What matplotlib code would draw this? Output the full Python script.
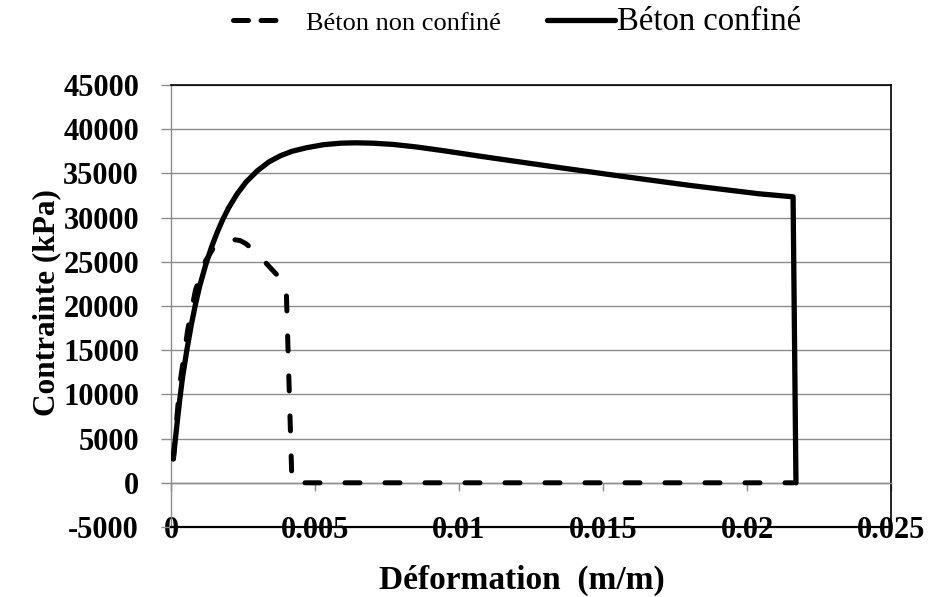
import matplotlib
matplotlib.use("Agg")
import matplotlib.pyplot as plt
from matplotlib.lines import Line2D
import numpy as np

plt.rcParams['font.family'] = ['Liberation Serif', 'DejaVu Serif']
plt.rcParams['axes.unicode_minus'] = False

# stress-strain curves (strain in m/m, stress in kPa)
unconf_strain = [0.00008, 0.0003, 0.00058, 0.00085, 0.0012, 0.0015, 0.0018, 0.002,
                 0.0022, 0.0024, 0.0026, 0.0028, 0.003, 0.0032, 0.0034, 0.0036,
                 0.0038, 0.0040, 0.0042, 0.0216]
unconf_stress = [2700, 11000, 17300, 21800, 25100, 26700, 27150, 27400,
                 27500, 27400, 27050, 26500, 25900, 25200, 24500, 23800,
                 23100, 22100, 0, 0]

conf_strain = [0.00008, 0.0002, 0.0003, 0.0004, 0.00055, 0.0007, 0.00085, 0.001,
               0.0012, 0.0014, 0.0016, 0.0018, 0.002, 0.0023, 0.0026, 0.003,
               0.0034, 0.0038, 0.0042, 0.0047, 0.0053, 0.0059, 0.0064, 0.007,
               0.0077, 0.0085, 0.0095, 0.0107, 0.012, 0.0135, 0.0156, 0.018,
               0.0204, 0.0216, 0.0217]
conf_stress = [2700, 6400, 9300, 11900, 15000, 17800, 20200, 22300,
               24600, 26600, 28300, 29800, 31100, 32700, 34000, 35300,
               36300, 37000, 37500, 37900, 38250, 38420, 38460, 38420,
               38280, 38000, 37550, 36960, 36350, 35650, 34700, 33650,
               32700, 32350, 0]

x_ticks = [0, 0.005, 0.01, 0.015, 0.02, 0.025]
x_tick_labels = ['0', '0.005', '0.01', '0.015', '0.02', '0.025']
y_ticks = list(range(-5000, 45001, 5000))

W, H = 931, 597
grey = '#8c8c8c'

fig = plt.figure(figsize=(W / 100, H / 100), dpi=100)
ax = fig.add_axes([171 / W, 1 - 527 / H, 720 / W, 442 / H])

ax.plot(unconf_strain, unconf_stress, color='black', lw=3.6, linestyle=(0, (3, 5)),
        dash_capstyle='round', solid_joinstyle='round', zorder=3)
ax.plot(conf_strain, conf_stress, color='black', lw=3.8,
        solid_capstyle='round', solid_joinstyle='round', zorder=4)

ax.set_xlim(0, 0.025)
ax.set_ylim(-5000, 45000)
ax.set_xticks(x_ticks)
ax.set_xticklabels(x_tick_labels)
ax.set_yticks(y_ticks)

ax.yaxis.grid(True, color=grey, lw=1.0)
ax.set_axisbelow(True)

# horizontal axis crosses at zero, frame in black
ax.spines['bottom'].set_position(('data', 0))
ax.spines['bottom'].set_color(grey)
ax.spines['left'].set_color(grey)
for s in ('bottom', 'left'):
    ax.spines[s].set_linewidth(1.0)
for s in ('top', 'right'):
    ax.spines[s].set_color('black')
    ax.spines[s].set_linewidth(1.2)
ax.axhline(-5000, color='black', lw=1.6, clip_on=False, zorder=5)

ax.tick_params(axis='x', direction='out', length=6, width=1, color=grey, pad=18,
               labelsize=22)
ax.tick_params(axis='y', direction='out', length=7, width=1, color=grey, pad=16,
               labelsize=22)
for lab in ax.get_xticklabels() + ax.get_yticklabels():
    lab.set_fontweight('bold')

ax.set_xlabel('Déformation  (m/m)', fontsize=24, fontweight='bold', va='center')
ax.xaxis.set_label_coords(0.4875, -0.12)
ax.set_ylabel('Contrainte (kPa)', fontsize=22.5, fontweight='bold', va='center')
ax.yaxis.set_label_coords(-0.172, 0.507)

# legend across the top
fig.add_artist(Line2D([233 / W, 281 / W], [1 - 20 / H, 1 - 20 / H], color='black',
                      lw=3.6, linestyle=(0, (3, 2.5)), dash_capstyle='round'))
fig.text(306 / W, 1 - 29.5 / H, 'Béton non confiné', fontsize=19, va='baseline')
fig.add_artist(Line2D([547 / W, 615 / W], [1 - 20 / H, 1 - 20 / H], color='black',
                      lw=3.8, solid_capstyle='round'))
fig.text(617 / W, 1 - 29.5 / H, 'Béton confiné', fontsize=23.5, va='baseline')

fig.savefig('out.png', dpi=100)
